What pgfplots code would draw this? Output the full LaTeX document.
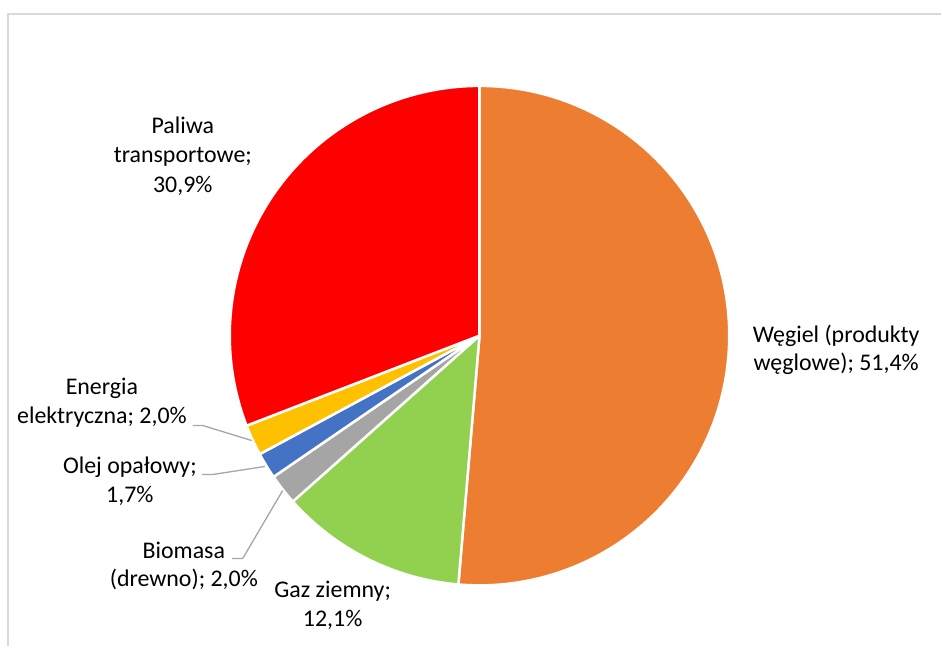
\documentclass[border=0pt]{standalone}
\usepackage{fontspec}
\setmainfont{Carlito}
\usepackage{pgfplots}
\pgfplotsset{compat=1.18}
\usepackage{pgfplotstable}

\definecolor{cWegiel}{HTML}{ED7D31}
\definecolor{cGaz}{HTML}{92D050}
\definecolor{cBio}{HTML}{A5A5A5}
\definecolor{cOlej}{HTML}{4472C4}
\definecolor{cEnergia}{HTML}{FFC000}
\definecolor{cPaliwa}{HTML}{FF0000}
\definecolor{frame}{HTML}{D9D9D9}
\definecolor{leader}{HTML}{A6A6A6}

% udzialy w %, od gory zgodnie z ruchem wskazowek zegara
\pgfplotstableread{
value color
51.4 cWegiel
12.1 cGaz
2.0 cBio
1.7 cOlej
2.0 cEnergia
30.9 cPaliwa
}\piedata

\newcommand\lbl[3]{\node[anchor=base,inner sep=0pt,font=\fontsize{24}{29}\selectfont] at (axis cs:#1,{647-#2}) {#3};}

\begin{document}
\begin{tikzpicture}
\begin{axis}[
    width=942bp, height=647bp, scale only axis,
    xmin=0, xmax=942, ymin=0, ymax=647,
    axis lines=none, clip=false]
  \path (axis cs:0,0) rectangle (axis cs:942,647);
  % ramka wykresu
  \draw[frame, line width=2bp] (axis cs:8,0) -- (axis cs:8,633) -- (axis cs:942,633);

  % suma
  \pgfplotstablegetrowsof{\piedata}
  \pgfmathtruncatemacro\nlast{\pgfplotsretval-1}
  \def\total{0}
  \pgfplotsforeachungrouped \i in {0,...,\nlast} {
    \pgfplotstablegetelem{\i}{value}\of\piedata
    \pgfmathsetmacro\total{\total+\pgfplotsretval}
  }
  % wycinki
  \def\angstart{90}
  \pgfplotsforeachungrouped \i in {0,...,\nlast} {
    \pgfplotstablegetelem{\i}{value}\of\piedata \let\v\pgfplotsretval
    \pgfplotstablegetelem{\i}{color}\of\piedata \let\c\pgfplotsretval
    \pgfmathsetmacro\angend{\angstart-3.6*(\v/\total)*100}
    \edef\temp{\noexpand\filldraw[fill=\c, draw=white, line width=2.5bp, line join=round]
      (axis cs:480,311) -- ++(\angstart:250bp)
      arc[start angle=\angstart, end angle=\angend, radius=250bp] -- cycle;}
    \temp
    \let\angstart\angend
  }

  % linie odniesienia
  \draw[leader, line width=1.3bp] (axis cs:193,{647-426}) -- (axis cs:203,{647-426}) -- (axis cs:252,{647-441});
  \draw[leader, line width=1.3bp] (axis cs:202,{647-475}) -- (axis cs:213,{647-475}) -- (axis cs:265,{647-467});
  \draw[leader, line width=1.3bp] (axis cs:232,{647-559}) -- (axis cs:243,{647-559}) -- (axis cs:283,{647-491});

  % etykiety
  \lbl{183}{134}{Paliwa}
  \lbl{183}{163}{transportowe;}
  \lbl{183}{193}{30,9\%}
  \lbl{837}{343}{Węgiel (produkty}
  \lbl{837}{371}{węglowe); 51,4\%}
  \lbl{333}{598}{Gaz ziemny;}
  \lbl{333}{627}{12,1\%}
  \lbl{184}{559}{Biomasa}
  \lbl{184}{587}{(drewno); 2,0\%}
  \lbl{130}{474}{Olej opałowy;}
  \lbl{130}{503}{1,7\%}
  \lbl{102}{395}{Energia}
  \lbl{102}{424}{elektryczna; 2,0\%}
\end{axis}
\end{tikzpicture}
\end{document}
